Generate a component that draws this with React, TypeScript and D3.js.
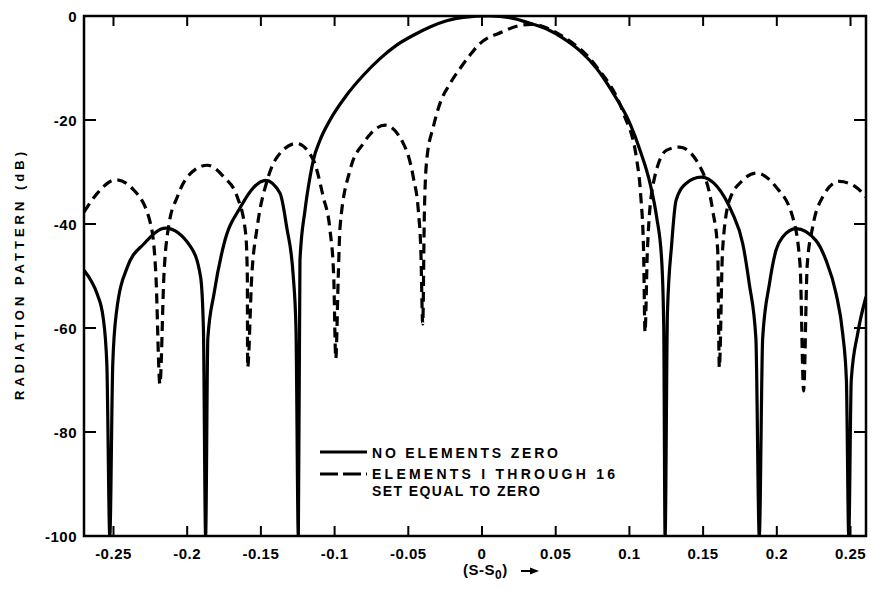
import React from "react";
import * as d3 from "d3";

const xTicks = [-0.25, -0.2, -0.15, -0.1, -0.05, 0, 0.05, 0.1, 0.15, 0.2, 0.25];
const xTickLabels = ["-0.25", "-0.2", "-0.15", "-0.1", "-0.05", "0", "0.05", "0.1", "0.15", "0.2", "0.25"];
const yTicks = [0, -20, -40, -60, -80, -100];
const yTickLabels = ["0", "-20", "-40", "-60", "-80", "-100"];

// Solid: no elements zero  [S-S0, dB]
const noZeroPattern: [number, number][] = [
  [-0.27, -48.9], [-0.265, -51], [-0.261, -53.5], [-0.257, -58], [-0.2545, -67], [-0.2525, -100],
  [-0.2505, -67], [-0.248, -57], [-0.2406, -48.3], [-0.2293, -43.8], [-0.2146, -40.8],
  [-0.1976, -44.4], [-0.1909, -50.2], [-0.189, -60], [-0.1875, -100],
  [-0.186, -62], [-0.1818, -53.4], [-0.175, -43.8], [-0.1637, -36.7], [-0.1547, -32.9], [-0.1468, -31.6],
  [-0.137, -34.1], [-0.1325, -40.6], [-0.128, -50.2], [-0.1262, -60], [-0.1246, -100],
  [-0.1235, -47], [-0.1201, -37.4], [-0.1167, -31], [-0.1144, -27.7], [-0.1099, -23.9],
  [-0.1031, -20], [-0.0918, -15.2], [-0.0805, -11.4], [-0.0692, -8.2], [-0.0579, -5.6],
  [-0.0466, -3.7], [-0.0353, -2.1], [-0.024, -0.9], [-0.0127, -0.25], [0.005, 0],
  [0.0212, -0.45], [0.0326, -1.4], [0.0439, -2.5], [0.0552, -4.3], [0.0665, -6.7], [0.0778, -10.1],
  [0.0891, -14.9], [0.1004, -20.7], [0.1072, -25.8], [0.114, -32.2], [0.1185, -38.7], [0.1219, -47],
  [0.1233, -60], [0.1242, -100],
  [0.1258, -57], [0.1287, -43.8], [0.1316, -35.5], [0.1384, -32.2], [0.1486, -31],
  [0.17, -38], [0.1769, -43.8], [0.1813, -51.5], [0.1858, -62], [0.1881, -100],
  [0.1904, -62], [0.195, -51.5], [0.1995, -45], [0.204, -42.5], [0.213, -40.9],
  [0.2266, -43.2], [0.2334, -47], [0.2402, -53.4], [0.2447, -61.1], [0.2472, -70], [0.2488, -100],
  [0.2505, -70], [0.2549, -61], [0.2605, -54],
];

// Dashed: elements 1 through 16 set equal to zero  [S-S0, dB]
const zeroedPattern: [number, number][] = [
  [-0.27, -37.7], [-0.261, -34.1], [-0.2485, -31.5], [-0.2361, -33.5], [-0.2248, -40], [-0.2212, -50],
  [-0.2185, -70.8],
  [-0.2158, -50], [-0.2123, -40], [-0.2067, -34.8], [-0.2, -31], [-0.1864, -28.7],
  [-0.175, -31], [-0.166, -34.8], [-0.1603, -41.9], [-0.1592, -50],
  [-0.159, -67.6],
  [-0.1562, -50], [-0.1525, -40.6], [-0.1457, -31.6], [-0.1389, -27.1], [-0.1257, -24.5],
  [-0.1144, -27.7], [-0.1077, -34.8], [-0.1031, -41.2], [-0.1006, -50],
  [-0.0992, -65.9],
  [-0.0975, -50], [-0.0963, -40.6], [-0.0896, -29.7], [-0.0805, -24.5], [-0.0658, -21],
  [-0.0534, -24.5], [-0.0466, -31], [-0.0432, -37.4], [-0.0415, -45],
  [-0.0402, -59.2],
  [-0.0391, -38], [-0.0375, -27.7], [-0.033, -21.3], [-0.0285, -16.8], [-0.0217, -13],
  [-0.0149, -10.1], [-0.0081, -7.5], [-0.0014, -5.3], [0.0054, -4], [0.01, -3.5],
  [0.0258, -1.8], [0.033, -1.6], [0.0552, -4], [0.0778, -9.8], [0.0959, -18.7],
  [0.105, -27.7], [0.1078, -35], [0.1096, -45],
  [0.1106, -60.8],
  [0.1122, -45], [0.1162, -32.2], [0.1253, -25.8], [0.1339, -25.2], [0.1497, -30],
  [0.1565, -37.4], [0.1599, -45],
  [0.161, -67.6],
  [0.1632, -45], [0.1678, -35.5], [0.1769, -31.6], [0.1859, -30.2], [0.1995, -32.9],
  [0.2108, -38.7], [0.2158, -48],
  [0.2182, -72.1],
  [0.2206, -48], [0.2243, -40.6], [0.2311, -34.8], [0.2424, -31.8], [0.2537, -32.9], [0.2605, -34.8],
];

const legendLabels = ["NO ELEMENTS ZERO", "ELEMENTS I THROUGH 16", "SET EQUAL TO ZERO"];
const yTitle = "RADIATION PATTERN (dB)";

export default function App() {
  const W = 871, H = 589;
  const L = 84, R = 866, T = 16, B = 536;
  const x = d3.scaleLinear().domain([-0.27, 0.2605]).range([L, R]);
  const y = d3.scaleLinear().domain([-100, 0]).range([B, T]);
  const line = d3
    .line<[number, number]>()
    .x((d) => x(d[0]))
    .y((d) => y(d[1]))
    .curve(d3.curveMonotoneX);
  const font = "'Liberation Sans', Arial, sans-serif";
  const ink = "#000";
  return (
    <svg
      width={W}
      height={H}
      viewBox={`0 0 ${W} ${H}`}
      style={{ position: "absolute", left: 0, top: 0, background: "#fff" }}
      fontFamily={font}
      fontWeight="bold"
    >
      <rect x={0} y={0} width={W} height={H} fill="#fff" />
      <defs>
        <clipPath id="plotClip">
          <rect x={L} y={T} width={R - L} height={B - T} />
        </clipPath>
      </defs>

      <g clipPath="url(#plotClip)" fill="none" stroke={ink}>
        <path d={line(noZeroPattern) || ""} strokeWidth={3.2} strokeLinejoin="round" />
        <path d={line(zeroedPattern) || ""} strokeWidth={3.2} strokeDasharray="10,6" />
      </g>

      {/* frame */}
      <rect x={L} y={T} width={R - L} height={B - T} fill="none" stroke={ink} strokeWidth={2.5} />

      {/* x ticks */}
      {xTicks.map((t, i) => (
        <g key={"xt" + i}>
          <line x1={x(t)} x2={x(t)} y1={T} y2={T + 10} stroke={ink} strokeWidth={2} />
          <line x1={x(t)} x2={x(t)} y1={B} y2={B - 10} stroke={ink} strokeWidth={2} />
          <text x={x(t)} y={559} textAnchor="middle" fontSize={15} fill={ink} letterSpacing={0.5}>
            {xTickLabels[i]}
          </text>
        </g>
      ))}

      {/* y ticks */}
      {yTicks.map((t, i) => (
        <g key={"yt" + i}>
          <line x1={L} x2={L + 12} y1={y(t)} y2={y(t)} stroke={ink} strokeWidth={2} />
          <line x1={R} x2={R - 12} y1={y(t)} y2={y(t)} stroke={ink} strokeWidth={2} />
          <text x={77} y={y(t) + 5.5} textAnchor="end" fontSize={15} fill={ink} letterSpacing={0.5}>
            {yTickLabels[i]}
          </text>
        </g>
      ))}

      {/* y title */}
      <text
        transform={`translate(24, 276) rotate(-90)`}
        textAnchor="middle"
        fontSize={13}
        fill={ink}
        textLength={248}
        lengthAdjust="spacing"
      >
        {yTitle}
      </text>

      {/* x title */}
      <text x={463} y={575} fontSize={15} fill={ink} letterSpacing={0.5}>
        (S-S<tspan fontSize={12} dy={4}>0</tspan>
        <tspan dy={-4}>)</tspan>
      </text>
      <line x1={521} x2={532} y1={571} y2={571} stroke={ink} strokeWidth={2} />
      <path d="M530,567.5 L539,571 L530,574.5 Z" fill={ink} />

      {/* legend */}
      <line x1={320} x2={367} y1={452} y2={452} stroke={ink} strokeWidth={3.2} />
      <line x1={320} x2={367} y1={474} y2={474} stroke={ink} strokeWidth={3.2} strokeDasharray="18,5" />
      <text x={372} y={458} fontSize={14} fill={ink} textLength={186} lengthAdjust="spacing">
        {legendLabels[0]}
      </text>
      <text x={372} y={479} fontSize={14} fill={ink} textLength={243} lengthAdjust="spacing">
        {legendLabels[1]}
      </text>
      <text x={372} y={496} fontSize={14} fill={ink} textLength={168} lengthAdjust="spacing">
        {legendLabels[2]}
      </text>
    </svg>
  );
}
